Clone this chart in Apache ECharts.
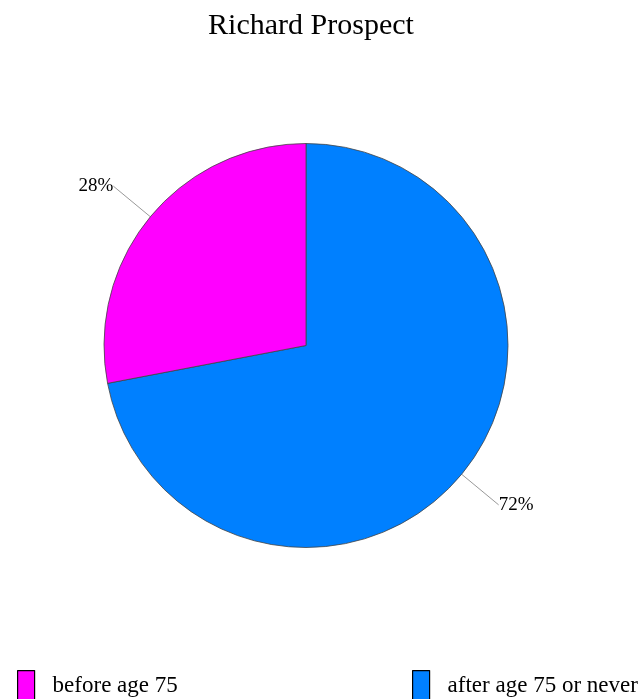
<!DOCTYPE html>
<html>
<head>
<meta charset="utf-8">
<script src="https://cdn.jsdelivr.net/npm/echarts@6/dist/echarts.min.js"></script>
<style>html,body{margin:0;padding:0;background:#fff;}#c{width:641px;height:699px;}</style>
</head>
<body>
<div id="c"></div>
<script>
const titleText = 'Richard Prospect';
const categories = ['after age 75 or never', 'before age 75'];
const values = [72, 28];
const colors = ['#0080FF', '#FF00FF'];
const legendOrder = ['before age 75', 'after age 75 or never'];

const chart = echarts.init(document.getElementById('c'), null, {renderer: 'canvas'});
const serif = '"Liberation Serif", "DejaVu Serif", serif';
const legendBase = {
  padding: 0,
  itemWidth: 17, itemHeight: 30, itemGap: 15, icon: 'rect',
  itemStyle: {borderColor: '#000', borderWidth: 1.2},
  textStyle: {fontFamily: serif, fontSize: 23, color: '#000', padding: [0, 0, 0, 13]}
};
chart.setOption({
  animation: false,
  backgroundColor: '#ffffff',
  title: {
    text: titleText, left: 306, top: 6, textAlign: 'center',
    textStyle: {fontFamily: serif, fontSize: 30, fontWeight: 'normal', color: '#000'}
  },
  legend: [
    Object.assign({data: [legendOrder[0]], left: 17, top: 670}, legendBase),
    Object.assign({data: [legendOrder[1]], left: 412, top: 670}, legendBase)
  ],
  series: [{
    type: 'pie',
    center: [306, 345.5],
    radius: [0, 202],
    startAngle: 90,
    clockwise: true,
    itemStyle: {borderColor: '#444', borderWidth: 0.8},
    label: {
      show: true,
      formatter: p => p.value + '%',
      fontFamily: serif, fontSize: 19, color: '#000',
      distanceToLabelLine: 0
    },
    labelLine: {show: true, length: 48, length2: 0, lineStyle: {color: '#999', width: 1}},
    data: categories.map((c, i) => ({name: c, value: values[i], itemStyle: {color: colors[i]}}))
  }]
});
</script>
</body>
</html>
